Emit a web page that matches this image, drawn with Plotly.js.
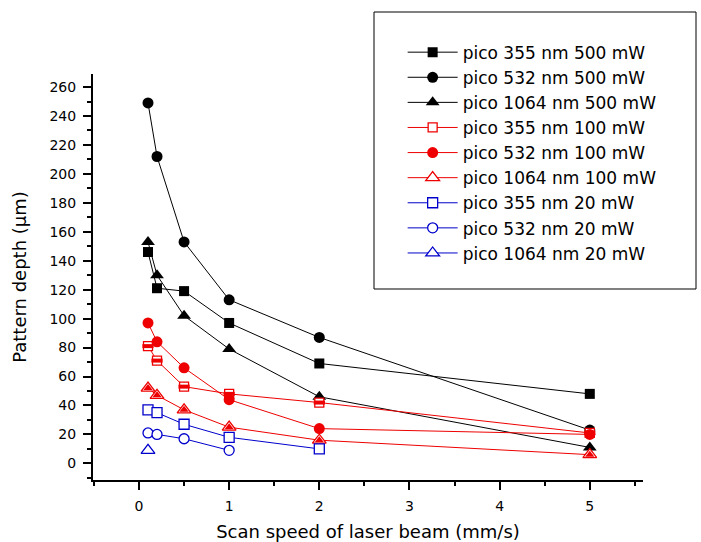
<!DOCTYPE html>
<html>
<head>
<meta charset="utf-8">
<script src="https://cdn.plot.ly/plotly-3.0.1.min.js"></script>
<style>html,body{margin:0;padding:0;background:#fff;}#chart{width:701px;height:542px;}</style>
</head>
<body>
<div id="chart"></div>
<script>
// Scan speeds (mm/s)
var speedAll = [0.1, 0.2, 0.5, 1, 2, 5];
var speed355_20 = [0.1, 0.2, 0.5, 1, 2];
var speed532_20 = [0.1, 0.2, 0.5, 1];
var speed1064_20 = [0.1];

// Pattern depth (µm)
var depth355_500 = [146, 121, 119, 97, 69, 48];
var depth532_500 = [249, 212, 153, 113, 87, 23];
var depth1064_500 = [153, 130, 102, 79, 46, 11];
var depth355_100 = [81, 71, 53, 48, 42, 21];
var depth532_100 = [97, 84, 66, 44, 24, 20];
var depth1064_100 = [52, 47, 37, 25, 16, 6];
var depth355_20 = [37, 35, 27, 18, 10];
var depth532_20 = [21, 20, 17, 9];
var depth1064_20 = [9];

var names = [
  'pico 355 nm 500 mW', 'pico 532 nm 500 mW', 'pico 1064 nm 500 mW',
  'pico 355 nm 100 mW', 'pico 532 nm 100 mW', 'pico 1064 nm 100 mW',
  'pico 355 nm 20 mW', 'pico 532 nm 20 mW', 'pico 1064 nm 20 mW'
];

var BLACK = '#000000', RED = '#ee0000', BLUE = '#0000cc';

function tr(x, y, name, color, symbol, size, fill) {
  return {
    x: x, y: y, name: name, type: 'scatter', mode: 'lines+markers',
    line: {color: color, width: 1},
    marker: {symbol: symbol, size: size, color: fill ? color : '#ffffff',
             line: {color: color, width: fill ? 0 : 1.3}},
    cliponaxis: false
  };
}
function overlay(x, y, color, symbol, size, lw) {
  return {
    x: x, y: y, type: 'scatter', mode: 'markers', showlegend: false, hoverinfo: 'skip',
    marker: {symbol: symbol, size: size, color: color, line: {color: color, width: lw}},
    cliponaxis: false
  };
}

var data = [
  tr(speedAll, depth355_500, names[0], BLACK, 'square', 10, true),
  tr(speedAll, depth532_500, names[1], BLACK, 'circle', 11, true),
  tr(speedAll, depth1064_500, names[2], BLACK, 'triangle-up', 12, true),
  tr(speedAll, depth355_100, names[3], RED, 'square', 9, false),
  tr(speedAll, depth532_100, names[4], RED, 'circle', 11, true),
  tr(speedAll, depth1064_100, names[5], RED, 'triangle-up', 12, false),
  tr(speed355_20, depth355_20, names[6], BLUE, 'square', 10, false),
  tr(speed532_20, depth532_20, names[7], BLUE, 'circle', 10, false),
  tr(speed1064_20, depth1064_20, names[8], BLUE, 'triangle-up', 12, false),
  overlay(speedAll, depth355_100, RED, 'line-ew', 8, 4),
  overlay(speedAll, depth1064_100, RED, 'triangle-up', 8, 0)
];

var FONT = 'DejaVu Sans, Arial, sans-serif';

var layout = {
  width: 701, height: 542,
  margin: {l: 93, r: 58, t: 74, b: 62},
  paper_bgcolor: '#ffffff', plot_bgcolor: '#ffffff',
  font: {family: FONT, color: '#000000', size: 14},
  showlegend: true,
  legend: {
    x: 0.563, y: 1.097, xanchor: 'left', yanchor: 'top',
    bgcolor: 'rgba(0,0,0,0)', borderwidth: 0,
    font: {family: FONT, size: 17, color: '#000000'},
    itemwidth: 50, tracegroupgap: 0
  },
  shapes: [{
    type: 'rect', xref: 'paper', yref: 'paper',
    x0: (374 - 93) / 550, x1: (696 - 93) / 550,
    y0: (480 - 289) / 406, y1: (480 - 12) / 406,
    line: {color: '#000000', width: 1}, fillcolor: 'rgba(0,0,0,0)', layer: 'below'
  }],
  xaxis: {
    range: [-0.51, 5.59], showgrid: false, zeroline: false,
    showline: true, linecolor: '#000000', linewidth: 2,
    ticks: 'outside', ticklen: 8, tickwidth: 2, tickcolor: '#000000',
    tick0: 0, dtick: 1, tickfont: {family: FONT, size: 14},
    ticklabelstandoff: 4,
    minor: {dtick: 0.5, ticks: 'outside', ticklen: 4, tickwidth: 2, tickcolor: '#000000'},
    title: {text: 'Scan speed of laser beam (mm/s)', font: {family: FONT, size: 18}, standoff: 14}
  },
  yaxis: {
    range: [-11.5, 269], showgrid: false, zeroline: false,
    showline: true, linecolor: '#000000', linewidth: 2,
    ticks: 'outside', ticklen: 8, tickwidth: 2, tickcolor: '#000000',
    tick0: 0, dtick: 20, tickfont: {family: FONT, size: 14},
    ticklabelstandoff: 4,
    minor: {dtick: 10, ticks: 'outside', ticklen: 4, tickwidth: 2, tickcolor: '#000000'},
    title: {text: 'Pattern depth (μm)', font: {family: FONT, size: 18}, standoff: 18}
  }
};

Plotly.newPlot('chart', data, layout, {displayModeBar: false, staticPlot: true});
</script>
</body>
</html>
